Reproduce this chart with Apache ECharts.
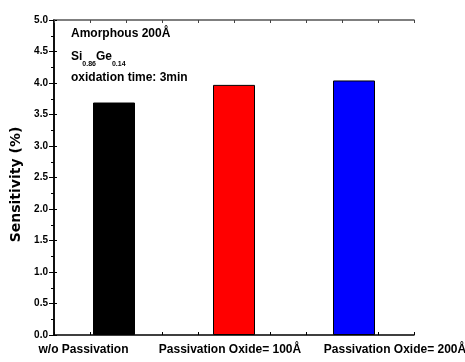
<!DOCTYPE html>
<html><head><meta charset="utf-8">
<script src="https://cdn.jsdelivr.net/npm/echarts@6/dist/echarts.min.js"></script>
<style>html,body{margin:0;padding:0;background:#fff}#c{width:465px;height:362px}</style>
</head><body><div id="c"></div>
<script>
const categories = ['w/o Passivation', 'Passivation Oxide= 100\u00C5', 'Passivation Oxide= 200\u00C5'];
const sensitivity = [3.69, 3.97, 4.04];
const barColors = ['#000000', '#ff0000', '#0000ff'];
const yTitle = 'Sensitivity (%)';
const noteLine1 = 'Amorphous 200\u00C5';
const noteLine3 = 'oxidation time: 3min';

const chart = echarts.init(document.getElementById('c'), null, {renderer: 'canvas'});
const F = 'Liberation Sans, Arial, sans-serif';
const labelShift = [{padding: [0, 61, 0, 0]}, {padding: [0, 8, 0, 0]}, {padding: [0, 0, 0, 82]}];
const rich = {};
labelShift.forEach((s, i) => {
  rich['s' + i] = Object.assign({fontSize: 12, fontWeight: 'bold', fontFamily: F, color: '#000'}, s);
});

chart.setOption({
  animation: false,
  backgroundColor: '#fff',
  grid: {left: 54, right: 51, top: 20, bottom: 27, containLabel: false, outerBoundsMode: 'none'},
  xAxis: [
    {
      type: 'category', data: categories, position: 'bottom',
      axisLine: {show: true, lineStyle: {color: '#000', width: 1.5}},
      axisTick: {show: false},
      axisLabel: {interval: 0, margin: 9, hideOverlap: false, formatter: (v, i) => '{s' + i + '|' + v + '}', rich: rich}
    },
    {
      type: 'value', min: 0, max: 10, interval: 1, position: 'bottom',
      axisLine: {show: false}, axisLabel: {show: false}, splitLine: {show: false},
      axisTick: {show: true, inside: true, length: 3, lineStyle: {color: '#000'}}
    },
    {
      type: 'value', min: 0, max: 10, interval: 1, position: 'top',
      axisLine: {show: true, onZero: false, lineStyle: {color: '#555', width: 1.5}},
      axisLabel: {show: false}, splitLine: {show: false},
      axisTick: {show: true, inside: true, length: 3, lineStyle: {color: '#444'}}
    }
  ],
  yAxis: [
    {
      type: 'value', min: 0, max: 5, interval: 0.5, position: 'left',
      name: yTitle, nameLocation: 'middle', nameGap: 27,
      nameTextStyle: {fontFamily: 'DejaVu Sans', fontWeight: 'bold', fontSize: 14, color: '#000', padding: [0, 14, 0, 0]},
      axisLine: {show: true, lineStyle: {color: '#000', width: 1.5}},
      axisTick: {show: true, inside: false, length: 5, lineStyle: {color: '#000'}},
      minorTick: {show: true, splitNumber: 2, length: 3, lineStyle: {color: '#000'}},
      splitLine: {show: false},
      axisLabel: {margin: 6, fontFamily: F, fontWeight: 'bold', fontSize: 10, color: '#000', formatter: v => v.toFixed(1)}
    },
    {
      type: 'value', min: 0, max: 5, interval: 0.5, position: 'right',
      axisLine: {show: true, lineStyle: {color: '#000', width: 1.5}},
      axisTick: {show: true, inside: false, length: 3, lineStyle: {color: '#000'}},
      axisLabel: {show: false}, splitLine: {show: false}
    }
  ],
  series: [{
    type: 'bar', xAxisIndex: 0, yAxisIndex: 0, barWidth: 42,
    data: sensitivity.map((v, i) => ({value: v, itemStyle: {color: barColors[i], borderColor: '#000', borderWidth: 1}}))
  }],
  graphic: [
    {type: 'text', left: 71, top: 28, style: {text: noteLine1, font: 'bold 12px ' + F, fill: '#000'}},
    {type: 'text', left: 71, top: 51, style: {
      text: '{b|Si}{s|0.86}{b|Ge}{s|0.14}',
      rich: {
        b: {font: 'bold 12px ' + F, fill: '#000', verticalAlign: 'bottom'},
        s: {font: 'bold 7px ' + F, fill: '#000', verticalAlign: 'bottom', padding: [0, 0, -5, 0]}
      }
    }},
    {type: 'text', left: 71, top: 72, style: {text: noteLine3, font: 'bold 12px ' + F, fill: '#000'}}
  ]
});
</script></body></html>
